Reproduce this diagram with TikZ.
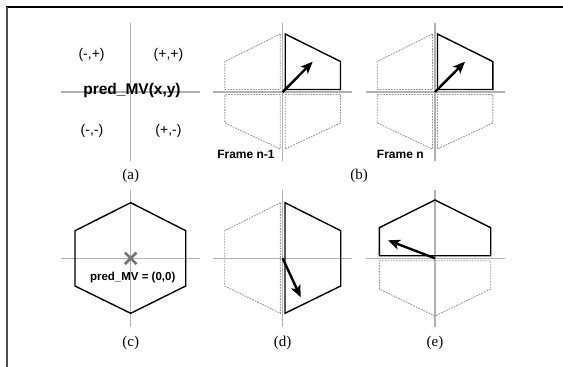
\documentclass[tikz,border=0pt]{standalone}
\usepackage{fontspec}
\setmainfont{Liberation Serif}
\setsansfont{Liberation Sans}
\usetikzlibrary{arrows.meta,shapes.misc}

\begin{document}
\begin{tikzpicture}[x=1pt,y=-1pt,
  axis/.style={draw=gray!60,line width=1.1pt},
  region/.style={draw=black,line width=1.4pt,line join=miter},
  ghost/.style={draw=gray!85,line width=0.9pt,dash pattern=on 1.6pt off 1.2pt},
  mv/.style={line width=2.4pt,-{Stealth[length=12pt,width=10pt,inset=3pt]}},
  caption/.style={font=\fontsize{15}{17}\selectfont},
  sign/.style={font=\sffamily\fontsize{14}{16}\selectfont},
  tag/.style={font=\sffamily\bfseries\fontsize{12}{14}\selectfont}]
  \useasboundingbox (0,0) rectangle (563,367);
  % frame
  \draw[line width=1.5pt] (6,7) -- (563,7);
  \draw[gray!60!black,line width=2pt] (6.5,7) -- (6.5,367);
  % axes of the six panels
  \foreach \cx/\cy in {130.7/92,282.7/92,435/92,130.7/258.3,282.7/258.3,435/258.3}{
    \draw[axis] (\cx-69.5,\cy) -- (\cx+69.5,\cy);
    \draw[axis] (\cx,\cy-68.7) -- (\cx,\cy+68.7);
  }

  % (a) quadrants
  \node[sign] (mp) at (91.6,54.5) {(-,+)};
  \node[sign] (pp) at (168.5,54.5) {(+,+)};
  \node[sign] (mm) at (92,131) {(-,-)};
  \node[sign] (pm) at (168.5,131) {(+,-)};
  \node[font=\sffamily\bfseries\fontsize{15.5}{17}\selectfont] (predxy) at (132,90.5) {pred\_MV(x,y)};
  \node[caption] (capa) at (130.7,176) {(a)};

  % (b) frame n-1 and frame n
  \foreach \cx/\nm in {282.7/bl,435/br}{
    \begin{scope}[shift={(\cx,92)}]
      \draw[ghost] (-2.5,-58) -- (-57.8,-30.5) -- (-57.8,-2.5) -- (-2.5,-2.5) -- cycle;
      \draw[ghost] (-2.5,2.5) -- (-57.8,2.5) -- (-57.8,31) -- (-2.5,57) -- cycle;
      \draw[ghost] (2.5,2.5) -- (57.8,2.5) -- (57.8,31) -- (2.5,57) -- cycle;
      \draw[region] (2.5,-58) -- (57.8,-30.5) -- (57.8,-2.5) -- (2.5,-2.5) -- cycle;
      \coordinate (\nm o) at (0,0);
      \coordinate (\nm t) at (30,-30.3);
      \draw[mv] (\nm o) -- (\nm t);
    \end{scope}
  }
  \node[tag] (framea) at (246,154) {Frame n-1};
  \node[tag] (frameb) at (400.3,154) {Frame n};
  \node[caption] (capb) at (359,176) {(b)};

  % (c) full hexagon around zero
  \begin{scope}[shift={(130.7,258.3)}]
    \draw[region] (0,-55.6) -- (55,-27.6) -- (55,27.7) -- (0,55) -- (-55.7,27.7) -- (-55.7,-27.6) -- cycle;
    \node[cross out,draw=gray!90!black,line width=2.6pt,minimum size=9pt,inner sep=0pt] (zero) at (0,0) {};
    \node[tag,font=\sffamily\bfseries\fontsize{11.5}{13}\selectfont] (predzero) at (2,19.4) {pred\_MV = (0,0)};
  \end{scope}
  \node[caption] (capc) at (130.7,343) {(c)};

  % (d) right half
  \begin{scope}[shift={(282.7,258.3)}]
    \draw[ghost] (-2.3,-55.6) -- (-58,-27.6) -- (-58,27.7) -- (-2.3,55) -- cycle;
    \draw[region] (2.3,-55.6) -- (58,-27.6) -- (58,27.7) -- (2.3,55) -- cycle;
    \coordinate (do) at (0,0);
    \coordinate (dt) at (18,39);
    \draw[mv] (do) -- (dt);
  \end{scope}
  \node[caption] (capd) at (282.7,343) {(d)};

  % (e) upper half
  \begin{scope}[shift={(435,258.3)}]
    \draw[ghost] (-55.7,2.4) -- (55.7,2.4) -- (55.7,30.7) -- (0,57.7) -- (-55.7,30.7) -- cycle;
    \draw[region] (0,-58.3) -- (55.7,-30.6) -- (55.7,-2.6) -- (-55.7,-2.6) -- (-55.7,-30.6) -- cycle;
    \coordinate (eo) at (0,0);
    \coordinate (et) at (-47,-18);
    \draw[mv] (eo) -- (et);
  \end{scope}
  \node[caption] (cape) at (435,343) {(e)};
\end{tikzpicture}
\end{document}
